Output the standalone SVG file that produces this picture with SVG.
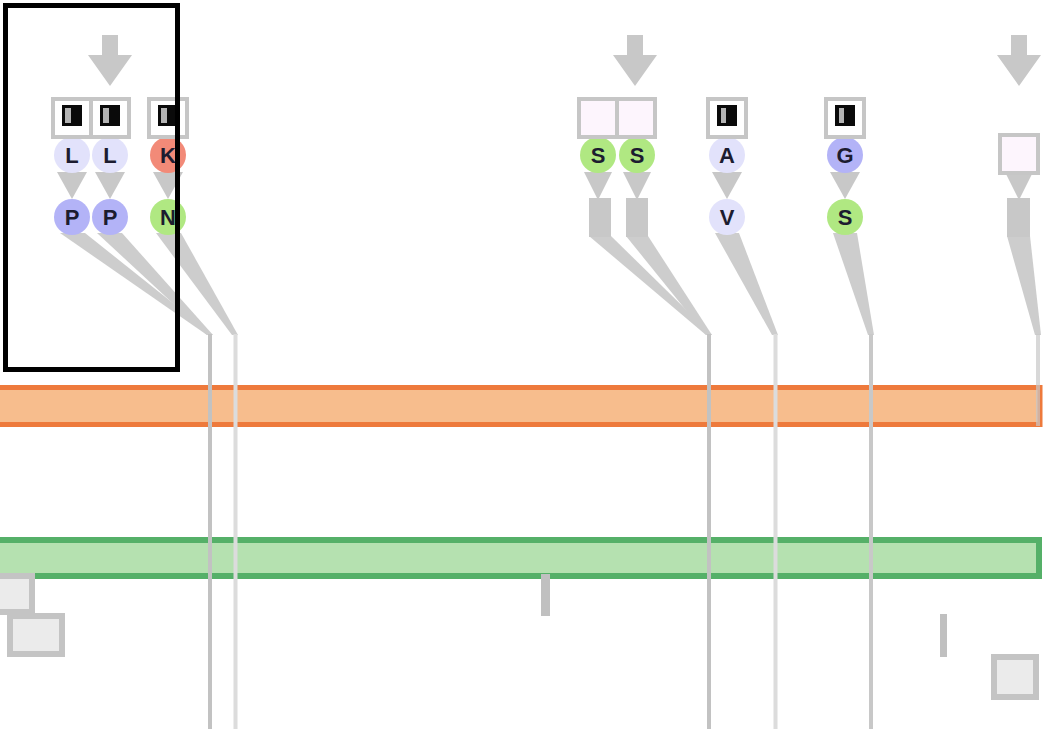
<svg xmlns="http://www.w3.org/2000/svg" width="1049" height="729" viewBox="0 0 1049 729">
  <defs>
    <style>
      .arrow { fill: #c8c8c8; }
      .sq { fill: #ffffff; stroke: #c6c6c6; stroke-width: 4; }
      .sq-empty { fill: #fdf5fd; stroke: #c6c6c6; stroke-width: 4; }
      .icon { fill: #0a0a0a; }
      .icon-in { fill: #b4b4b4; }
      .tri { fill: #c8c8c8; }
      .stem { fill: #c8c8c8; }
      .c-lav { fill: #e2e2fb; }
      .c-blue { fill: #b3b3f7; }
      .c-green { fill: #b0e882; }
      .c-red { fill: #f28a78; }
      .lbl { font-family: "Liberation Sans", Arial, sans-serif; font-size: 22px; font-weight: bold; fill: #1c1c30; text-anchor: middle; }
      .band { fill: #cdcdcd; }
      .wire { stroke-width: 4; fill: none; }
      .w-dark { stroke: #c2c2c2; }
      .w-light { stroke: #dcdcdc; }
      .w-mid { stroke: #c8c8c8; }
      .box { fill: #ebebeb; stroke: #c4c4c4; stroke-width: 6; }
      .tick { fill: #c0c0c0; }
    </style>
  </defs>
  <rect width="1049" height="729" fill="#ffffff"/>

  <!-- horizontal tracks -->
  <g id="track-orange">
    <rect x="-10" y="387.5" width="1050" height="37" fill="#f7bd8d" stroke="#ee7a3c" stroke-width="5"/>
  </g>
  <g id="track-green">
    <rect x="-10" y="540" width="1049" height="36" fill="#b5e1b0" stroke="#55b068" stroke-width="6"/>
  </g>

  <!-- small blocks below the green track -->
  <g id="block-a"><rect class="box" x="-10" y="576" width="42" height="36"/></g>
  <g id="block-b"><rect class="box" x="10" y="616" width="52" height="38"/></g>
  <g id="block-c"><rect class="box" x="994" y="657" width="42" height="40"/></g>
  <g id="tick-a"><rect class="tick" x="541" y="574" width="9" height="42"/></g>
  <g id="tick-b"><rect class="tick" x="940" y="614" width="7" height="43"/></g>

  <!-- connectors -->
  <g id="connectors">
    <polygon class="band" points="60,233 85,233 213,335 207,335"/>
    <polygon class="band" points="97,233 122,233 213,335 207,335"/>
    <polygon class="band" points="156,233 181,233 238,335 232,335"/>
    <polygon class="band" points="589,236 611,236 712,335 706,335"/>
    <polygon class="band" points="626,236 648,236 712,335 706,335"/>
    <polygon class="band" points="715,233 739,233 778,335 772,335"/>
    <polygon class="band" points="833,233 857,233 874,335 868,335"/>
    <polygon class="band" points="1007,236 1030,236 1041,335 1035,335"/>
    <line class="wire w-dark" x1="210" y1="334" x2="210" y2="729"/>
    <line class="wire w-light" x1="235.5" y1="334" x2="235.5" y2="729"/>
    <line class="wire w-dark" x1="709" y1="334" x2="709" y2="729"/>
    <line class="wire w-light" x1="775.5" y1="334" x2="775.5" y2="729"/>
    <line class="wire w-mid" x1="871" y1="334" x2="871" y2="729"/>
    <line class="wire w-mid" x1="1038" y1="334" x2="1038" y2="426" stroke-opacity="0.7"/>
  </g>

  <!-- input arrows -->
  <g id="arrow-left"><polygon class="arrow" points="102,35 118,35 118,55 132,55 110,86 88,55 102,55"/></g>
  <g id="arrow-mid"><polygon class="arrow" points="627,35 643,35 643,55 657,55 635,86 613,55 627,55"/></g>
  <g id="arrow-right"><polygon class="arrow" points="1011,35 1027,35 1027,55 1041,55 1019,86 997,55 1011,55"/></g>

  <!-- column L / P -->
  <g id="col-1">
    <polygon class="tri" points="57,172 87,172 72,199"/>
    <circle class="c-lav" cx="72" cy="155" r="18"/>
    <text class="lbl" x="72" y="163">L</text>
    <circle class="c-blue" cx="72" cy="217" r="18"/>
    <text class="lbl" x="72" y="225">P</text>
    <rect class="sq" x="53" y="99" width="38" height="38"/>
    <rect class="icon" x="62" y="105" width="20" height="21"/>
    <rect class="icon-in" x="65" y="108" width="6" height="15"/>
  </g>
  <!-- column L / P -->
  <g id="col-2">
    <polygon class="tri" points="95,172 125,172 110,199"/>
    <circle class="c-lav" cx="110" cy="155" r="18"/>
    <text class="lbl" x="110" y="163">L</text>
    <circle class="c-blue" cx="110" cy="217" r="18"/>
    <text class="lbl" x="110" y="225">P</text>
    <rect class="sq" x="91" y="99" width="38" height="38"/>
    <rect class="icon" x="100" y="105" width="20" height="21"/>
    <rect class="icon-in" x="103" y="108" width="6" height="15"/>
  </g>
  <!-- column K / N -->
  <g id="col-3">
    <polygon class="tri" points="153,172 183,172 168,199"/>
    <circle class="c-red" cx="168" cy="155" r="18"/>
    <text class="lbl" x="168" y="163">K</text>
    <circle class="c-green" cx="168" cy="217" r="18"/>
    <text class="lbl" x="168" y="225">N</text>
    <rect class="sq" x="149" y="99" width="38" height="38"/>
    <rect class="icon" x="158" y="105" width="20" height="21"/>
    <rect class="icon-in" x="161" y="108" width="6" height="15"/>
  </g>
  <!-- column S -->
  <g id="col-4">
    <polygon class="tri" points="584,172 612,172 598,200"/>
    <rect class="stem" x="589" y="198" width="22" height="39"/>
    <circle class="c-green" cx="598" cy="155" r="18"/>
    <text class="lbl" x="598" y="163">S</text>
    <rect class="sq-empty" x="579" y="99" width="38" height="38"/>
  </g>
  <!-- column S -->
  <g id="col-5">
    <polygon class="tri" points="623,172 651,172 637,200"/>
    <rect class="stem" x="626" y="198" width="22" height="39"/>
    <circle class="c-green" cx="637" cy="155" r="18"/>
    <text class="lbl" x="637" y="163">S</text>
    <rect class="sq-empty" x="617" y="99" width="38" height="38"/>
  </g>
  <!-- column A / V -->
  <g id="col-6">
    <polygon class="tri" points="712,172 742,172 727,199"/>
    <circle class="c-lav" cx="727" cy="155" r="18"/>
    <text class="lbl" x="727" y="163">A</text>
    <circle class="c-lav" cx="727" cy="217" r="18"/>
    <text class="lbl" x="727" y="225">V</text>
    <rect class="sq" x="708" y="99" width="38" height="38"/>
    <rect class="icon" x="717" y="105" width="20" height="21"/>
    <rect class="icon-in" x="721" y="108" width="5" height="15"/>
  </g>
  <!-- column G / S -->
  <g id="col-7">
    <polygon class="tri" points="830,172 860,172 845,199"/>
    <circle class="c-blue" cx="845" cy="155" r="18"/>
    <text class="lbl" x="845" y="163">G</text>
    <circle class="c-green" cx="845" cy="217" r="18"/>
    <text class="lbl" x="845" y="225">S</text>
    <rect class="sq" x="826" y="99" width="38" height="38"/>
    <rect class="icon" x="835" y="105" width="20" height="21"/>
    <rect class="icon-in" x="839" y="108" width="5" height="15"/>
  </g>
  <!-- column at right edge -->
  <g id="col-8">
    <polygon class="tri" points="1005,172 1033,172 1019,200"/>
    <rect class="stem" x="1007" y="198" width="23" height="39"/>
    <rect class="sq-empty" x="1000" y="135" width="38" height="38"/>
  </g>

  <!-- highlight frame -->
  <g id="frame">
    <rect x="5.5" y="5.5" width="172" height="364" fill="none" stroke="#000000" stroke-width="5"/>
  </g>
</svg>
